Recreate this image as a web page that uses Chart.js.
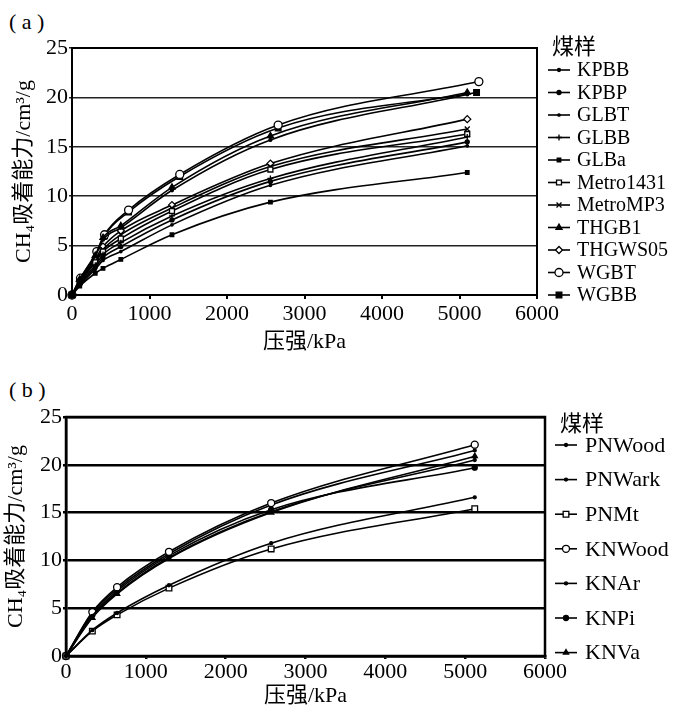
<!DOCTYPE html>
<html>
<head>
<meta charset="utf-8">
<script src="https://cdn.jsdelivr.net/npm/chart.js@4.4.0/dist/chart.umd.min.js"></script>
<style>
    body { margin: 0; background: #fff; width: 674px; height: 709px; position: relative; overflow: hidden;
           font-family: 'Liberation Serif', 'Noto Sans CJK SC', serif; }
    .panel { position: absolute; left: 0; width: 674px; }
    #wrapA { top: 0; height: 360px; }
    #wrapB { top: 370px; height: 339px; }
    .tag { position: absolute; left: 9px; font-size: 22px; line-height: 22px; color: #000; }
</style>
</head>
<body>
<div class="tag" style="top:11px">( a )</div>
<div class="tag" style="top:379px">( b )</div>
<div class="panel" id="wrapA"><canvas id="chartA"></canvas></div>
<div class="panel" id="wrapB"><canvas id="chartB"></canvas></div>
<script>
// Presiones (kPa) de cada ensayo
const pressA = [0, 100, 300, 400, 630, 1290, 2560, 5100];
const pressA_WG = [0, 110, 320, 420, 730, 1390, 2660, 5250];
const pressA_WGBB = [0, 110, 320, 420, 730, 1390, 2660, 5220];
const pressB = [0, 330, 640, 1290, 2570, 5120];

// Panel (a): capacidad de adsorción de CH4 (cm3/g)
const KPBB = [0, 1.5, 3.9, 5.6, 6.8, 10.6, 15.7, 20.3];
const KPBP = [0, 1.1, 2.8, 3.8, 4.9, 7.6, 11.5, 15.5];
const GLBT = [0, 1.0, 2.6, 3.5, 4.4, 7.1, 11.1, 15.1];
const GLBB = [0, 1.2, 3.0, 4.1, 5.3, 8.0, 11.8, 16.0];
const GLBa = [0, 0.9, 2.2, 2.7, 3.6, 6.1, 9.4, 12.4];
const Metro1431 = [0, 1.3, 3.3, 4.4, 5.7, 8.5, 12.7, 16.3];
const MetroMP3 = [0, 1.3, 3.4, 4.6, 6.1, 8.8, 13.0, 16.8];
const THGB1 = [0, 1.6, 4.0, 5.8, 7.0, 10.9, 16.1, 20.5];
const THGWS05 = [0, 1.4, 3.6, 4.9, 6.5, 9.1, 13.3, 17.8];
const WGBT = [0, 1.7, 4.4, 6.1, 8.6, 12.2, 17.2, 21.6];
const WGBB = [0, 1.6, 4.2, 6.0, 8.4, 12.0, 16.9, 20.5];

// Panel (b)
const PNWood = [0, 4.2, 6.6, 10.3, 15.1, 20.5];
const PNWark = [0, 2.7, 4.5, 7.4, 11.8, 16.6];
const PNMt = [0, 2.6, 4.3, 7.1, 11.2, 15.4];
const KNWood = [0, 4.6, 7.2, 10.9, 16.0, 22.1];
const KNAr = [0, 4.5, 7.0, 10.7, 15.8, 21.5];
const KNPi = [0, 4.3, 6.8, 10.5, 15.3, 19.7];
const KNVa = [0, 4.0, 6.5, 10.2, 15.0, 20.9];

const xTicks = [0, 1000, 2000, 3000, 4000, 5000, 6000];
const yTicks = [0, 5, 10, 15, 20, 25];

const FONT = "'Liberation Serif', 'Noto Sans CJK SC', serif";

function serie(label, xs, ys, style, radius, fill) {
    return {
        label: label,
        data: xs.map((x, i) => ({ x: x, y: ys[i] })),
        borderColor: '#000',
        borderWidth: 1.6,
        pointStyle: style,
        pointRadius: radius,
        pointBorderWidth: 1.3,
        pointBorderColor: '#000',
        pointBackgroundColor: fill,
        cubicInterpolationMode: 'monotone',
        clip: false
    };
}

// Leyenda lateral dibujada a mano
const sideLegend = {
    id: 'sideLegend',
    afterDraw(chart, args, opts) {
        const ctx = chart.ctx;
        ctx.save();
        ctx.fillStyle = '#000';
        ctx.textBaseline = 'middle';
        ctx.font = opts.titleFont;
        ctx.fillText('煤样', opts.titleX, opts.titleY);
        ctx.font = opts.font;
        chart.data.datasets.forEach((ds, i) => {
            const y = opts.top + i * opts.gap;
            ctx.strokeStyle = '#000';
            ctx.lineWidth = 1.6;
            ctx.beginPath();
            ctx.moveTo(opts.x, y);
            ctx.lineTo(opts.x + opts.len, y);
            ctx.stroke();
            ctx.fillStyle = ds.pointBackgroundColor;
            ctx.lineWidth = ds.pointBorderWidth;
            Chart.helpers.drawPoint(ctx, {
                pointStyle: ds.pointStyle, radius: ds.pointRadius,
                borderWidth: ds.pointBorderWidth, rotation: 0
            }, opts.x + opts.len / 2, y);
            ctx.fillStyle = '#000';
            ctx.fillText(ds.label, opts.textX, y + 1);
        });
        ctx.restore();
    }
};

// Marco del área de trazado
const frame = {
    id: 'frame',
    afterDatasetsDraw(chart, args, opts) {
        const a = chart.chartArea;
        const ctx = chart.ctx;
        ctx.save();
        ctx.strokeStyle = '#000';
        ctx.lineWidth = opts.width;
        ctx.strokeRect(a.left, a.top, a.right - a.left, a.bottom - a.top);
        ctx.restore();
    }
};

function makeChart(id, datasets, g) {
    return new Chart(document.getElementById(id), {
        type: 'line',
        data: { datasets: datasets },
        plugins: [frame, sideLegend],
        options: {
            responsive: true,
            maintainAspectRatio: false,
            animation: false,
            layout: { padding: { top: g.top, right: g.right, left: 0, bottom: 0 } },
            plugins: {
                legend: { display: false },
                tooltip: { enabled: false },
                frame: { width: g.border },
                sideLegend: g.legend
            },
            scales: {
                x: {
                    type: 'linear', min: 0, max: 6000,
                    afterBuildTicks: s => { s.ticks = xTicks.map(v => ({ value: v })); },
                    afterFit: s => { s.height = g.xHeight; },
                    grid: { drawOnChartArea: false, color: '#000', lineWidth: g.border, tickLength: g.xTickLen },
                    border: { color: '#000', width: g.border },
                    ticks: { color: '#000', padding: g.xTickPad, maxRotation: 0,
                             callback: v => String(v), font: { family: FONT, size: 22 } },
                    title: { display: true, text: '压强/kPa', color: '#000',
                             padding: { top: 0, bottom: g.xTitlePad }, font: { family: FONT, size: 22 } }
                },
                y: {
                    min: 0, max: 25,
                    afterBuildTicks: s => { s.ticks = yTicks.map(v => ({ value: v })); },
                    afterFit: s => { s.width = g.yWidth; },
                    grid: { color: g.gridColor, lineWidth: g.gridWidth, tickLength: 3 },
                    border: { color: '#000', width: g.border },
                    ticks: { color: '#000', padding: 1, callback: v => String(v),
                             font: { family: FONT, size: 22 } },
                    title: { display: true, text: 'CH₄吸着能力/cm³/g', color: '#000',
                             padding: { top: g.yTitlePad, bottom: 0 }, font: { family: FONT, size: 22 } }
                }
            }
        }
    });
}

makeChart('chartA', [
    serie('KPBB', pressA, KPBB, 'circle', 1.5, '#000'),
    serie('KPBP', pressA, KPBP, 'circle', 2, '#000'),
    serie('GLBT', pressA, GLBT, 'circle', 1.2, '#000'),
    serie('GLBB', pressA, GLBB, 'cross', 3, '#000'),
    serie('GLBa', pressA, GLBa, 'rect', 2.5, '#000'),
    serie('Metro1431', pressA, Metro1431, 'rect', 3.5, '#fff'),
    serie('MetroMP3', pressA, MetroMP3, 'crossRot', 3.5, '#000'),
    serie('THGB1', pressA, THGB1, 'triangle', 3.5, '#000'),
    serie('THGWS05', pressA, THGWS05, 'rectRot', 3.5, '#fff'),
    serie('WGBT', pressA_WG, WGBT, 'circle', 4, '#fff'),
    serie('WGBB', pressA_WGBB, WGBB, 'rect', 4, '#000')
], {
    top: 48, right: 137, yWidth: 72, xHeight: 65, border: 2,
    gridColor: '#222', gridWidth: 1.5, xTickLen: 4, xTickPad: 2, xTitlePad: 5, yTitlePad: 11,
    legend: {
        titleFont: "22px " + FONT, font: "20px " + FONT,
        titleX: 552, titleY: 48, x: 548, len: 22, textX: 577, top: 70, gap: 22.5
    }
});

makeChart('chartB', [
    serie('PNWood', pressB, PNWood, 'circle', 1.5, '#000'),
    serie('PNWark', pressB, PNWark, 'circle', 1.5, '#000'),
    serie('PNMt', pressB, PNMt, 'rect', 4, '#fff'),
    serie('KNWood', pressB, KNWood, 'circle', 3.5, '#fff'),
    serie('KNAr', pressB, KNAr, 'circle', 1.5, '#000'),
    serie('KNPi', pressB, KNPi, 'circle', 2.5, '#000'),
    serie('KNVa', pressB, KNVa, 'triangle', 3, '#000')
], {
    top: 47, right: 129, yWidth: 66, xHeight: 53, border: 2.5,
    gridColor: '#000', gridWidth: 2.5, xTickLen: 3, xTickPad: 0, xTitlePad: 0, yTitlePad: 3,
    legend: {
        titleFont: "22px " + FONT, font: "22px " + FONT,
        titleX: 560, titleY: 55, x: 555, len: 22, textX: 585, top: 75, gap: 34.6
    }
});
</script>
</body>
</html>
